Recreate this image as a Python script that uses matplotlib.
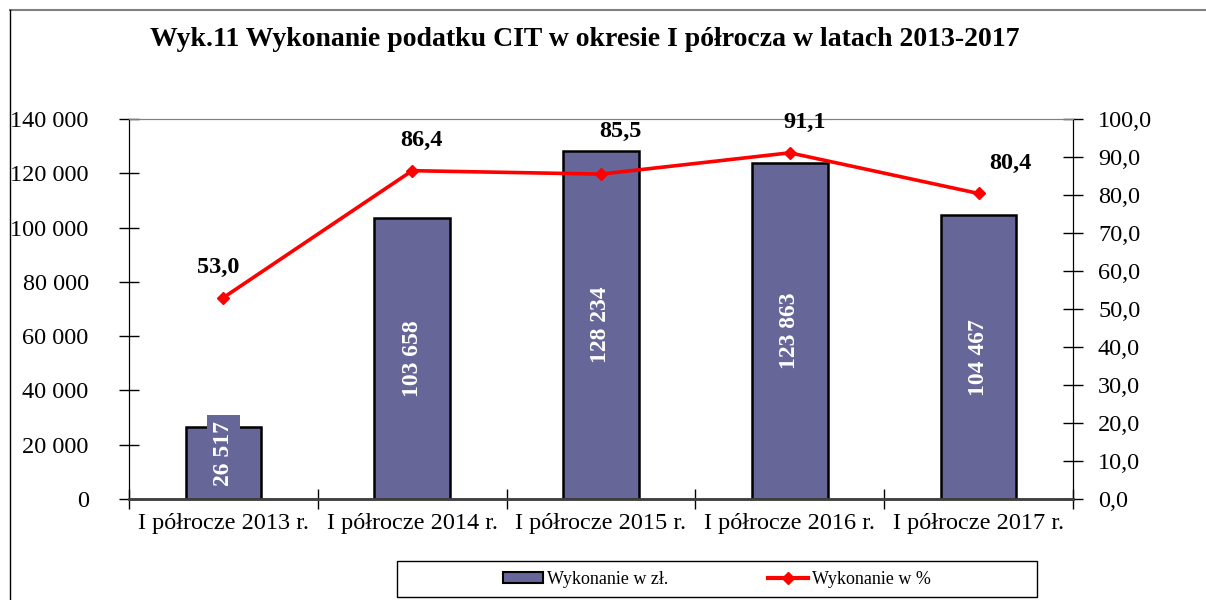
import numpy as np
import matplotlib
matplotlib.use('Agg')
import matplotlib.pyplot as plt
from matplotlib.lines import Line2D
from matplotlib.patches import Patch, Rectangle
from matplotlib.ticker import FuncFormatter, MultipleLocator

categories = ['I półrocze 2013 r.', 'I półrocze 2014 r.', 'I półrocze 2015 r.',
              'I półrocze 2016 r.', 'I półrocze 2017 r.']
amounts = [26517, 103658, 128234, 123863, 104467]
percents = [53.0, 86.4, 85.5, 91.1, 80.4]

BAR_COLOR = '#666699'
plt.rcParams['font.family'] = ['Liberation Serif', 'DejaVu Serif']

fig = plt.figure(figsize=(12.06, 6), dpi=100)
ax = fig.add_axes([129/1206, 1-499/600, (1073-129)/1206, (499-119)/600])
ax2 = ax.twinx()

x = np.arange(len(categories))
bars = ax.bar(x, amounts, width=0.4, color=BAR_COLOR, edgecolor='black', linewidth=1.8, zorder=2)
ax.set_xlim(-0.5, len(categories)-0.5)
ax.set_ylim(0, 140000)
ax.yaxis.set_major_locator(MultipleLocator(20000))
ax.yaxis.set_major_formatter(FuncFormatter(lambda v, p: '{:,.0f}'.format(v).replace(',', ' ')))

ax.set_xticks(x)
ax.set_xticklabels(categories)
ax.set_xticks(np.arange(-0.5, len(categories)), minor=True)
ax.tick_params(axis='x', which='major', length=0, pad=10, labelsize=17.5)
ax.tick_params(axis='x', which='minor', length=14, direction='inout', width=1)
ax.tick_params(axis='y', length=14, direction='inout', width=1, pad=22, labelsize=17.5)

# bar value labels
for i, v in enumerate(amounts):
    lbl = '{:,}'.format(v).replace(',', ' ')
    if v < 50000:
        ax.text(i, v/2 + 3500, lbl, rotation=90, ha='center', va='center', color='white',
                fontsize=17, fontweight='bold', zorder=4,
                bbox=dict(facecolor=BAR_COLOR, edgecolor='none', pad=4))
    else:
        ax.text(i, v/2, lbl, rotation=90, ha='center', va='center', color='white',
                fontsize=17, fontweight='bold', zorder=4)

ax2.plot(x, percents, color='#FF0000', linewidth=2.6, marker='D', markersize=6, zorder=3)
ax2.set_ylim(0, 100)
ax2.yaxis.set_major_locator(MultipleLocator(10))
ax2.yaxis.set_major_formatter(FuncFormatter(lambda v, p: '{:.1f}'.format(v).replace('.', ',')))
ax2.tick_params(axis='y', length=14, direction='inout', width=1, pad=11, labelsize=17.5)

offsets = [(-4, 14), (7, 14), (14, 23), (11, 14), (23, 14)]
for i, v in enumerate(percents):
    ax2.annotate('{:.1f}'.format(v).replace('.', ','), (i, v), xytext=offsets[i],
                 textcoords='offset points', ha='center', va='bottom',
                 fontsize=17.5, fontweight='bold')

for a in (ax, ax2):
    a.spines['top'].set_color('#808080')
    a.spines['bottom'].set_color('#404040')
    a.spines['bottom'].set_linewidth(1.8)
    a.spines['left'].set_color('black')
    a.spines['right'].set_color('black')

fig.text(585/1206, 1-40/600, 'Wyk.11 Wykonanie podatku CIT w okresie I półrocza w latach 2013-2017',
         ha='center', va='center', fontsize=20, fontweight='bold')

# legend
handles = [Patch(facecolor=BAR_COLOR, edgecolor='black', linewidth=1.5),
           Line2D([0], [0], color='#FF0000', linewidth=3, marker='D', markersize=6)]
fig.legend(handles, ['Wykonanie w zł.', 'Wykonanie w %'], loc='center',
           bbox_to_anchor=(717/1206, 1-579/600), ncol=2, frameon=False,
           fontsize=13, handlelength=2.2, handleheight=0.55, handletextpad=0.25,
           columnspacing=5.5)
fig.patches.append(Rectangle((397/1206, 1-597/600), 640/1206, 36/600, transform=fig.transFigure,
                             fill=False, edgecolor='black', linewidth=1))

# outer chart frame
fig.add_artist(Line2D([10/1206, 1], [1-10/600, 1-10/600], color='#808080', linewidth=1.5, transform=fig.transFigure))
fig.add_artist(Line2D([10/1206, 10/1206], [0, 1-10/600], color='black', linewidth=1, transform=fig.transFigure))

fig.savefig('out.png', dpi=100)
